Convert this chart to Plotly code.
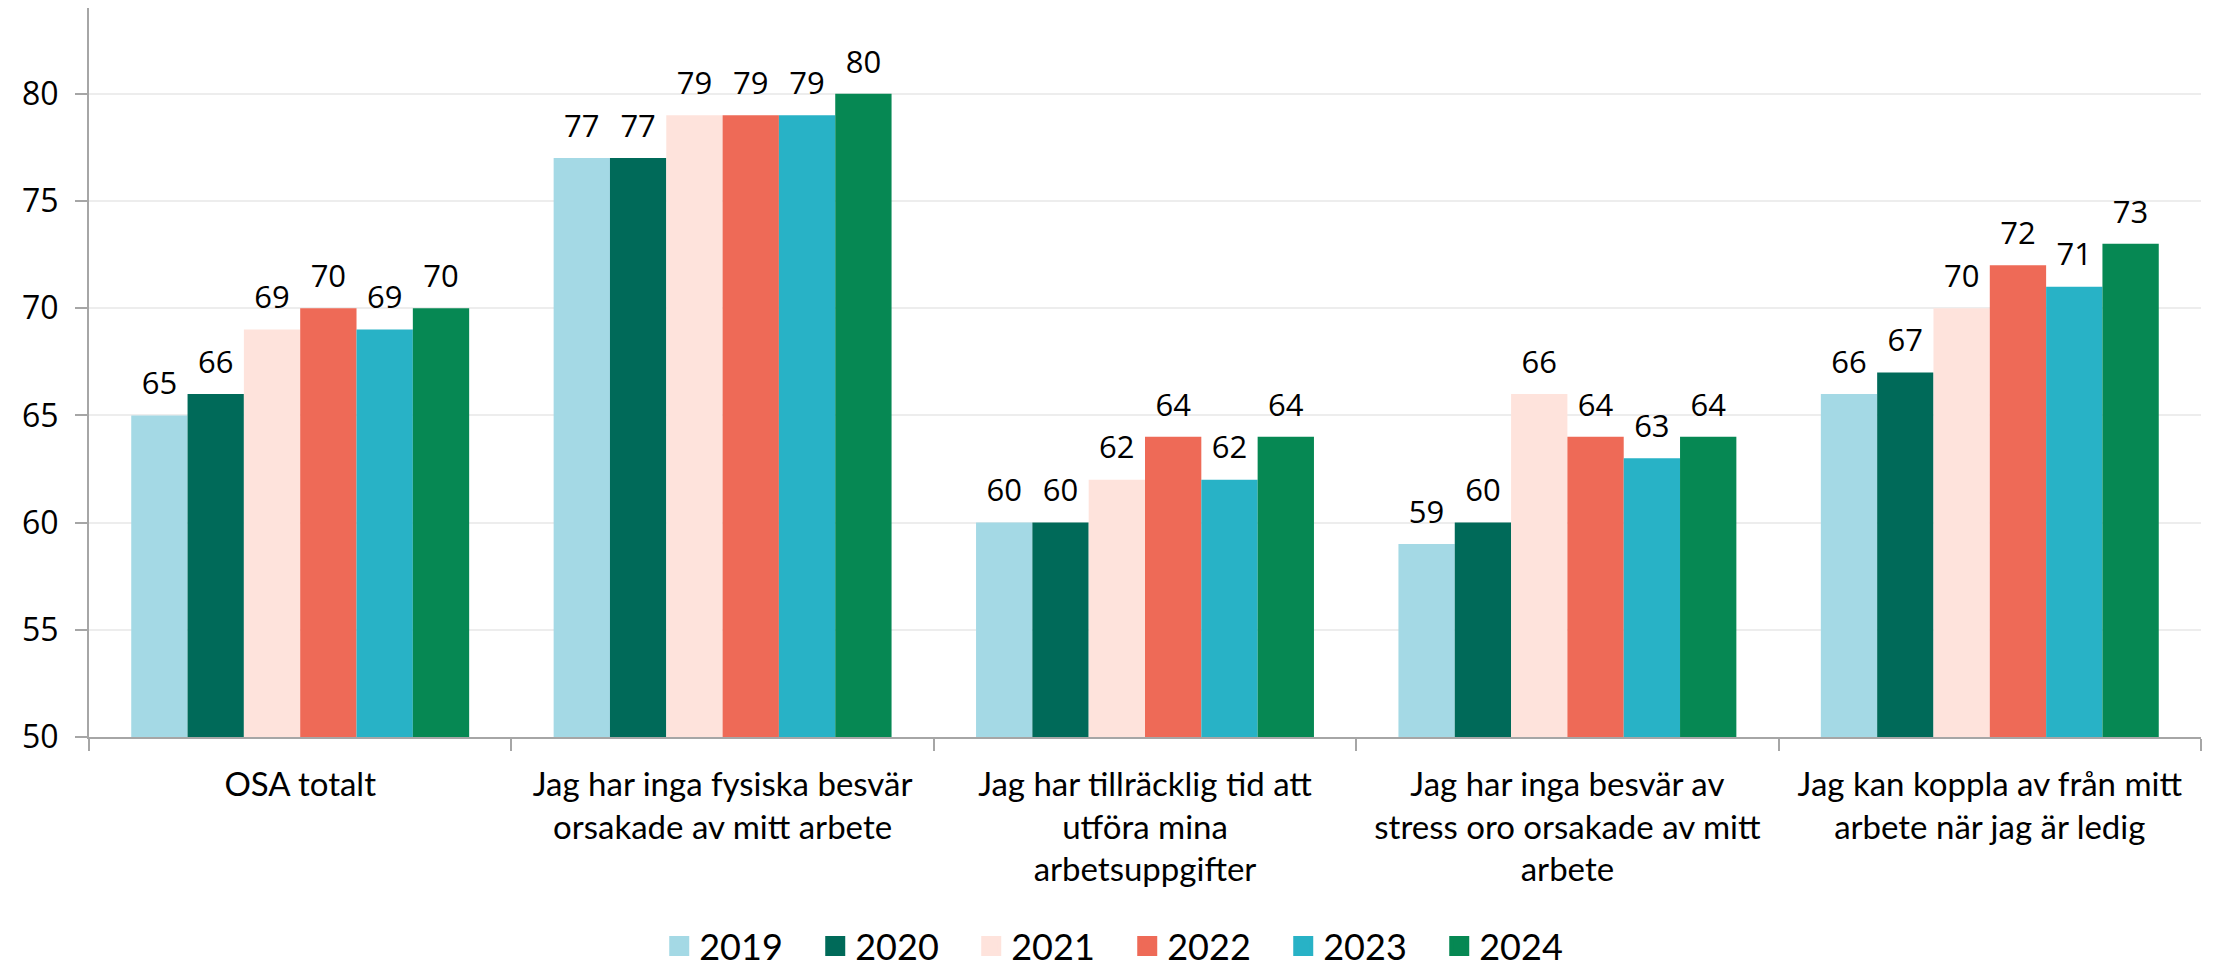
import plotly.graph_objects as go

# categories (x axis), line breaks as in the original
categories = [
    "OSA totalt",
    "Jag har inga fysiska besvär<br>orsakade av mitt arbete",
    "Jag har tillräcklig tid att<br>utföra mina<br>arbetsuppgifter",
    "Jag har inga besvär av<br>stress oro orsakade av mitt<br>arbete",
    "Jag kan koppla av från mitt<br>arbete när jag är ledig",
]

years = ["2019", "2020", "2021", "2022", "2023", "2024"]

values_2019 = [65, 77, 60, 59, 66]
values_2020 = [66, 77, 60, 60, 67]
values_2021 = [69, 79, 62, 66, 70]
values_2022 = [70, 79, 64, 64, 72]
values_2023 = [69, 79, 62, 63, 71]
values_2024 = [70, 80, 64, 64, 73]

y_ticks = [50, 55, 60, 65, 70, 75, 80]

series = [values_2019, values_2020, values_2021, values_2022, values_2023, values_2024]
colors = ["#A4D9E5", "#006A59", "#FEE3DC", "#EE6A57", "#28B2C6", "#068853"]

label_font = "Open Sans, DejaVu Sans, sans-serif"
axis_font = "Lato, Open Sans, sans-serif"

fig = go.Figure()

for year, vals, col in zip(years, series, colors):
    fig.add_trace(go.Bar(
        name=year,
        x=categories,
        y=vals,
        offsetgroup=year,
        marker=dict(color=col, line=dict(width=0)),
        showlegend=False,
        hoverinfo="skip",
    ))

# value labels, grouped the same way as the bars
for year, vals in zip(years, series):
    fig.add_trace(go.Scatter(
        name=year,
        x=categories,
        y=vals,
        offsetgroup=year,
        mode="markers+text",
        marker=dict(size=20, opacity=0),
        text=[str(v) for v in vals],
        textposition="top center",
        textfont=dict(family=label_font, size=31, color="#000000"),
        cliponaxis=False,
        showlegend=False,
    ))

# legend entries with bigger square swatches (on a hidden axis pair)
for year, col in zip(years, colors):
    fig.add_trace(go.Scatter(
        name=year,
        x=[None],
        y=[None],
        xaxis="x2",
        yaxis="y2",
        mode="markers",
        marker=dict(symbol="square", size=16, color=col, line=dict(width=4, color=col)),
        showlegend=True,
    ))

# page body adds an 8px offset, so the figure is 8px smaller than the window
fig.update_layout(
    width=2208,
    height=959,
    paper_bgcolor="white",
    plot_bgcolor="white",
    barmode="group",
    bargap=0.2,
    bargroupgap=0,
    scattermode="group",
    scattergap=0.2,
    margin=dict(l=81, r=15, t=0, b=230, autoexpand=False),
    font=dict(family=axis_font, color="#000000"),
    legend=dict(
        orientation="h",
        x=0.270,
        xanchor="left",
        y=-0.287,
        yanchor="middle",
        font=dict(family=axis_font, size=36, color="#000000"),
        entrywidth=111,
        itemwidth=30,
        bgcolor="rgba(0,0,0,0)",
    ),
    xaxis2=dict(overlaying="x", visible=False),
    yaxis2=dict(overlaying="y", visible=False),
    yaxis=dict(
        range=[50, 84],
        tickvals=y_ticks,
        showgrid=True,
        gridcolor="#EDEDED",
        gridwidth=2,
        showline=True,
        linecolor="#A6A6A6",
        linewidth=2,
        ticks="outside",
        ticklen=12,
        tickwidth=2,
        tickcolor="#A6A6A6",
        ticklabelstandoff=10,
        tickfont=dict(family=label_font, size=32, color="#000000"),
        zeroline=False,
        automargin=False,
    ),
    xaxis=dict(
        showline=True,
        linecolor="#A6A6A6",
        linewidth=2,
        ticks="outside",
        tickson="boundaries",
        ticklen=12,
        tickwidth=2,
        tickcolor="#A6A6A6",
        ticklabelstandoff=17,
        tickfont=dict(family=axis_font, size=33, color="#000000"),
        tickangle=0,
        automargin=False,
    ),
)

fig.write_html("out.html")
